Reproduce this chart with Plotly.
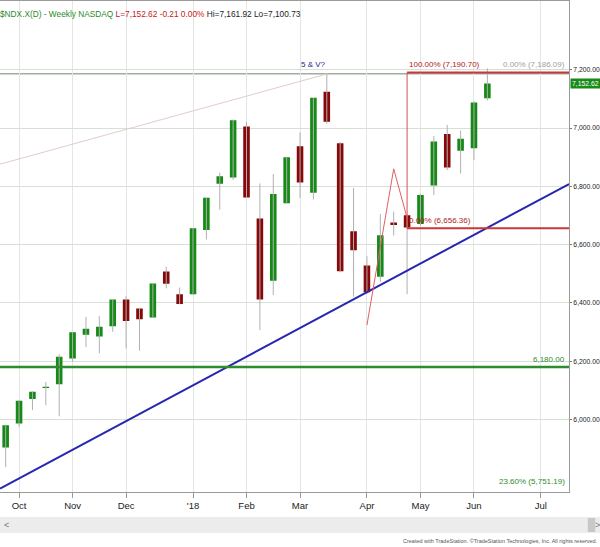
import pandas as pd
import plotly.graph_objects as go

# ---------------- data ----------------
week_start = pd.date_range("2017-09-25", periods=37, freq="W-MON")

open_ = [5904, 5986, 6070, 6108, 6121, 6209, 6291, 6285, 6320, 6412, 6381, 6350, 6508, 6430,
         6430, 6650, 6809, 6830, 7005, 6690, 6476, 6742, 6938, 6778, 7125, 6948, 6646, 6528,
         6490, 6676, 6701, 6671, 6803, 6980, 6922, 6931, 7102]
high = [5982, 6066, 6097, 6129, 6224, 6300, 6352, 6355, 6413, 6423, 6383, 6468, 6524, 6453,
        6657, 6762, 6847, 7030, 7022, 6810, 6842, 6900, 6985, 7104, 7186.09, 6952, 6794, 6560,
        6705, 6713, 6702, 6775, 6973, 7011, 6991, 7092, 7205]
low = [5837, 5975, 6032, 6049, 6011, 6198, 6249, 6227, 6301, 6244, 6236, 6349, 6450, 6395,
       6428, 6618, 6720, 6822, 6760, 6307, 6427, 6740, 6760, 6755, 7015, 6505, 6421, 6430,
       6472, 6631, 6430, 6665, 6770, 6856, 6844, 6890, 7095]
close = [5980, 6064, 6095, 6112, 6215, 6299, 6311, 6318, 6412, 6338, 6344, 6467, 6466, 6396,
         6656, 6761, 6835, 7027, 6762, 6412, 6774, 6900, 6813, 7104, 7022, 6509, 6581, 6437,
         6632, 6667, 6659, 6770, 6954, 6865, 6963, 7088, 7152.62]

month_ticks = ["2017-10-02", "2017-10-30", "2017-11-27", "2018-01-01", "2018-01-29",
               "2018-02-26", "2018-04-02", "2018-04-30", "2018-05-28", "2018-07-02"]
month_labels = ["Oct", "Nov", "Dec", "'18", "Feb", "Mar", "Apr", "May", "Jun", "Jul"]

price_ticks = [6000, 6200, 6400, 6600, 6800, 7000, 7200]
x_range = ["2017-09-22 00:45", "2018-07-16 17:00"]
y_range = [5751.19, 7436]

# overlay studies
grey_trend_x = ["2017-09-22 00:45", "2018-03-12 06:00"]
grey_trend_y = [6876, 7186.09]
blue_trend_x = ["2017-09-22 00:45", "2018-07-16 17:00"]
blue_trend_y = [5763, 6808]
zigzag_x = ["2018-04-02", "2018-04-16", "2018-04-23"]
zigzag_y = [6324, 6860, 6692]
fib_start = "2018-04-23"
fib_hi, fib_lo = 7190.70, 6656.36
ath_level = 7186.09
support_level = 6180.00
fib_236 = 5751.19
last_price = 7152.62

FONT = "Liberation Sans, Arial, sans-serif"
GREEN = "#168a16"
RED = "#870808"

fig = go.Figure()

# wicks (grey)
wx, wy = [], []
for d, h, l in zip(week_start, high, low):
    wx += [d, d, None]
    wy += [l, h, None]
fig.add_trace(go.Scatter(x=wx, y=wy, mode="lines", line=dict(color="#b0b0b0", width=1),
                         hoverinfo="skip", showlegend=False))

fig.add_trace(go.Candlestick(
    x=week_start, open=open_, high=high, low=low, close=close,
    increasing=dict(fillcolor=GREEN, line=dict(color=GREEN, width=0)),
    decreasing=dict(fillcolor=RED, line=dict(color=RED, width=0)),
    showlegend=False))

# grey faint trendline
fig.add_trace(go.Scatter(x=grey_trend_x, y=grey_trend_y, mode="lines",
                         line=dict(color="#e2cccc", width=1), showlegend=False, hoverinfo="skip"))
# blue trendline
fig.add_trace(go.Scatter(x=blue_trend_x, y=blue_trend_y, mode="lines",
                         line=dict(color="#2626b0", width=2), showlegend=False, hoverinfo="skip"))
# red zigzag
fig.add_trace(go.Scatter(x=zigzag_x, y=zigzag_y, mode="lines",
                         line=dict(color="#e06060", width=1), showlegend=False, hoverinfo="skip"))

shapes = [
    dict(type="line", xref="paper", x0=0, x1=1, yref="y", y0=ath_level, y1=ath_level,
         line=dict(color="#a3aba3", width=1.5), layer="below"),
    dict(type="line", xref="paper", x0=0, x1=1, yref="y", y0=support_level, y1=support_level,
         line=dict(color="#2e8b2e", width=2.5)),
    dict(type="line", xref="x", x0=fib_start, x1=x_range[1], yref="y", y0=fib_hi, y1=fib_hi,
         line=dict(color="#c83838", width=2)),
    dict(type="line", xref="x", x0=fib_start, x1=x_range[1], yref="y", y0=fib_lo, y1=fib_lo,
         line=dict(color="#c83838", width=2)),
    dict(type="line", xref="x", x0=fib_start, x1=fib_start, yref="y", y0=fib_lo, y1=fib_hi,
         line=dict(color="#d45050", width=1)),
    # scrollbar
    dict(type="rect", xref="paper", yref="paper", x0=0, x1=1.06, y0=-0.0835, y1=-0.0509,
         fillcolor="#ececec", line=dict(width=0)),
    dict(type="rect", xref="paper", yref="paper", x0=1.033, x1=1.046, y0=-0.0815, y1=-0.053,
         fillcolor="#c8c8c8", line=dict(width=0)),
]

ann = [
    dict(xref="paper", yref="paper", x=0, y=1, xanchor="left", yanchor="top", xshift=-2, yshift=-6,
         showarrow=False, font=dict(family=FONT, size=8.3),
         text='<span style="color:#2a8a2a">$NDX.X(D) - Weekly NASDAQ</span> '
              '<span style="color:#c42020">L=7,152.62 -0.21 0.00%</span> '
              '<span style="color:#222222">Hi=7,161.92 Lo=7,100.73</span>'),
    dict(xref="x", yref="y", x="2018-03-05", y=fib_hi, yanchor="bottom", yshift=1,
         showarrow=False, text="5 & V?", font=dict(family=FONT, size=8, color="#23238a")),
    dict(xref="x", yref="y", x=fib_start, y=fib_hi, xanchor="left", yanchor="bottom", yshift=1,
         showarrow=False, text="100.00% (7,190.70)", font=dict(family=FONT, size=8, color="#b02020")),
    dict(xref="paper", yref="y", x=1, y=fib_hi, xanchor="right", yanchor="bottom", yshift=1, xshift=-2,
         showarrow=False, text="0.00% (7,186.09)", font=dict(family=FONT, size=8, color="#a0a0a0")),
    dict(xref="x", yref="y", x=fib_start, y=fib_lo, xanchor="left", yanchor="bottom", yshift=1,
         showarrow=False, text="0.00% (6,656.36)", font=dict(family=FONT, size=8, color="#b02020")),
    dict(xref="paper", yref="y", x=1, y=support_level, xanchor="right", yanchor="bottom", yshift=1, xshift=-2,
         showarrow=False, text="6,180.00", font=dict(family=FONT, size=8, color="#2e8b2e")),
    dict(xref="paper", yref="y", x=1, y=fib_236, xanchor="right", yanchor="bottom", yshift=4, xshift=-2,
         showarrow=False, text="23.60% (5,751.19)", font=dict(family=FONT, size=8, color="#2e8b2e")),
    dict(xref="paper", yref="y", x=1, y=last_price, xanchor="left", xshift=1,
         showarrow=False, text="7,152.62", bgcolor="#1a8a1a", borderpad=1,
         font=dict(family=FONT, size=6.8, color="white")),
    dict(xref="paper", yref="paper", x=0.003, y=-0.067, xanchor="left", yanchor="middle",
         showarrow=False, text="&lt;", font=dict(family=FONT, size=9, color="#777")),
    dict(xref="paper", yref="paper", x=1.058, y=-0.067, xanchor="right", yanchor="middle",
         showarrow=False, text="&gt;", font=dict(family=FONT, size=9, color="#777")),
    dict(xref="paper", yref="paper", x=1.055, y=-0.099, xanchor="right", yanchor="middle",
         showarrow=False,
         text="Created with TradeStation. \u00a9TradeStation Technologies, Inc. All rights reserved.",
         font=dict(family=FONT, size=5.5, color="#555")),
]

fig.update_layout(
    width=600, height=547,
    margin=dict(l=0, r=31, t=1, b=55, autoexpand=False),
    paper_bgcolor="white", plot_bgcolor="white",
    template="none",
    shapes=shapes, annotations=ann,
    hovermode=False,
    xaxis=dict(type="date", range=x_range, tickvals=month_ticks, ticktext=month_labels,
               showgrid=True, gridcolor="#e3e6e3", gridwidth=1,
               showline=True, linecolor="#9a9a9a", linewidth=1, mirror=True,
               ticks="outside", ticklen=5, tickcolor="#9a9a9a",
               tickfont=dict(family=FONT, size=9.5, color="#222"),
               rangeslider=dict(visible=False), automargin=False, zeroline=False),
    yaxis=dict(side="right", range=y_range, tickvals=price_ticks, tickformat=",.2f",
               showgrid=True, gridcolor="#d6e0d6", gridwidth=1,
               showline=True, linecolor="#9a9a9a", linewidth=1, mirror=True,
               ticks="outside", ticklen=2, tickcolor="#777",
               tickfont=dict(family=FONT, size=6.8, color="#222"),
               automargin=False, zeroline=False),
)

fig.write_html("out.html", config={"displayModeBar": False},
               post_script="document.body.style.margin='0px';")
